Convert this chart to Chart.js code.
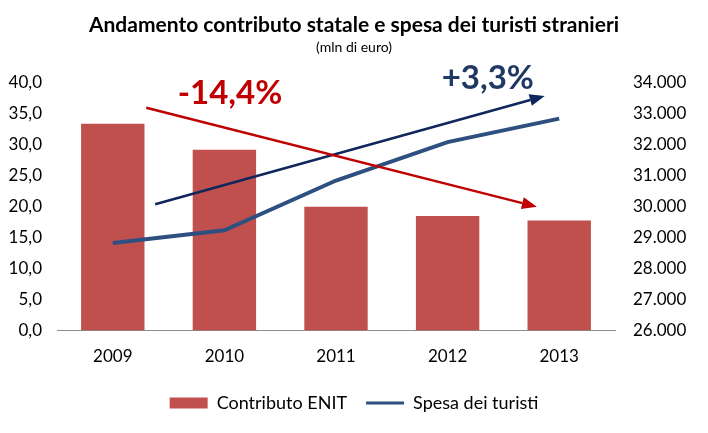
<!DOCTYPE html>
<html>
<head>
<meta charset="utf-8">
<script src="https://cdn.jsdelivr.net/npm/chart.js@4"></script>
<style>
  body { margin: 0; background: #fff; }
  #wrap { width: 708px; height: 433px; position: relative; }
</style>
</head>
<body>
<div id="wrap"><canvas id="enitChart"></canvas></div>
<script>
// anni e valori (mln di euro)
var years = ['2009', '2010', '2011', '2012', '2013'];
var contributoEnit = [33.4, 29.2, 20.0, 18.5, 17.8];
var spesaTuristi = [28830, 29240, 30850, 32090, 32850];

// frecce di tendenza in coordinate dei dati (indice anno, asse sinistro)
var redArrowFrom = [0.30, 36.0];
var redArrowTo = [3.80, 20.0];
var blueArrowFrom = [0.38, 20.4];
var blueArrowTo = [3.87, 37.9];
var redLabel = ['-14,4%', 1.05, 38.3];
var blueLabel = ['+3,3%', 3.36, 40.8];

var FONT = 'Lato, "Open Sans", sans-serif';

function drawArrow(ctx, x1, y1, x2, y2, color) {
    var ang = Math.atan2(y2 - y1, x2 - x1);
    var head = 15, half = 6;
    ctx.save();
    ctx.strokeStyle = color;
    ctx.fillStyle = color;
    ctx.lineWidth = 2.5;
    ctx.beginPath();
    ctx.moveTo(x1, y1);
    ctx.lineTo(x2 - head * Math.cos(ang), y2 - head * Math.sin(ang));
    ctx.stroke();
    ctx.beginPath();
    ctx.moveTo(x2, y2);
    ctx.lineTo(x2 - head * Math.cos(ang) + half * Math.sin(ang), y2 - head * Math.sin(ang) - half * Math.cos(ang));
    ctx.lineTo(x2 - head * Math.cos(ang) - half * Math.sin(ang), y2 - head * Math.sin(ang) + half * Math.cos(ang));
    ctx.closePath();
    ctx.fill();
    ctx.restore();
}

var trendPlugin = {
    id: 'trendArrows',
    afterDatasetsDraw: function(chart) {
        var ctx = chart.ctx, x = chart.scales.x, y = chart.scales.y;
        drawArrow(ctx, x.getPixelForValue(blueArrowFrom[0]), y.getPixelForValue(blueArrowFrom[1]),
            x.getPixelForValue(blueArrowTo[0]), y.getPixelForValue(blueArrowTo[1]), '#10275C');
        drawArrow(ctx, x.getPixelForValue(redArrowFrom[0]), y.getPixelForValue(redArrowFrom[1]),
            x.getPixelForValue(redArrowTo[0]), y.getPixelForValue(redArrowTo[1]), '#C00000');
        ctx.save();
        ctx.textAlign = 'center';
        ctx.textBaseline = 'middle';
        ctx.font = 'bold 33px ' + FONT;
        ctx.fillStyle = '#C00000';
        ctx.fillText(redLabel[0], x.getPixelForValue(redLabel[1]), y.getPixelForValue(redLabel[2]));
        ctx.fillStyle = '#1F3864';
        ctx.fillText(blueLabel[0], x.getPixelForValue(blueLabel[1]), y.getPixelForValue(blueLabel[2]));
        ctx.restore();
    }
};

new Chart(document.getElementById('enitChart').getContext('2d'), {
    type: 'bar',
    data: {
        labels: years,
        datasets: [
            { type: 'bar', label: 'Contributo ENIT', data: contributoEnit, backgroundColor: '#C0504D', borderWidth: 0, yAxisID: 'y', order: 1, categoryPercentage: 0.8, barPercentage: 0.71 },
            { type: 'line', label: 'Spesa dei turisti', data: spesaTuristi, borderColor: '#2D5080', backgroundColor: '#2D5080', borderWidth: 4, pointRadius: 0, tension: 0, yAxisID: 'y1', order: 0, pointStyle: 'line' }
        ]
    },
    options: {
        responsive: true, maintainAspectRatio: false, animation: false,
        layout: { padding: { top: 0, bottom: 11 } },
        plugins: {
            title: { display: true, text: 'Andamento contributo statale e spesa dei turisti stranieri', color: '#000', font: { family: FONT, size: 21, weight: 'bold' }, padding: { top: 13, bottom: 0 } },
            subtitle: { display: true, text: '(mln di euro)', color: '#000', font: { family: FONT, size: 14 }, padding: { top: 1, bottom: 27 } },
            legend: {
                position: 'bottom',
                labels: {
                    color: '#000', font: { family: FONT, size: 18 }, usePointStyle: true, pointStyleWidth: 38, boxHeight: 11, padding: 19,
                    generateLabels: function(chart) {
                        return chart.data.datasets.map(function(ds, i) {
                            return { text: ds.label, fillStyle: ds.backgroundColor, strokeStyle: ds.type === 'line' ? ds.borderColor : ds.backgroundColor, lineWidth: ds.type === 'line' ? 3 : 0, pointStyle: ds.type === 'line' ? 'line' : 'rect', datasetIndex: i, fontColor: '#000' };
                        });
                    }
                }
            },
            tooltip: { enabled: false }
        },
        scales: {
            x: {
                grid: { display: false }, border: { color: '#8C8C8C', width: 1 },
                ticks: { color: '#000', font: { family: FONT, size: 17 }, padding: 8 }
            },
            y: {
                position: 'left', min: 0, max: 40,
                grid: { display: false }, border: { display: false },
                afterFit: function(s) { s.width = 57; },
                ticks: { stepSize: 5, color: '#000', padding: 7, font: { family: FONT, size: 17 }, callback: function(v) { return v.toFixed(1).replace('.', ','); } }
            },
            y1: {
                position: 'right', min: 26000, max: 34000,
                grid: { display: false }, border: { display: false },
                afterFit: function(s) { s.width = 93; },
                ticks: { stepSize: 1000, color: '#000', padding: 10, font: { family: FONT, size: 17 }, callback: function(v) { return String(v).replace(/\B(?=(\d{3})+(?!\d))/g, '.'); } }
            }
        }
    },
    plugins: [trendPlugin]
});
</script>
</body>
</html>
